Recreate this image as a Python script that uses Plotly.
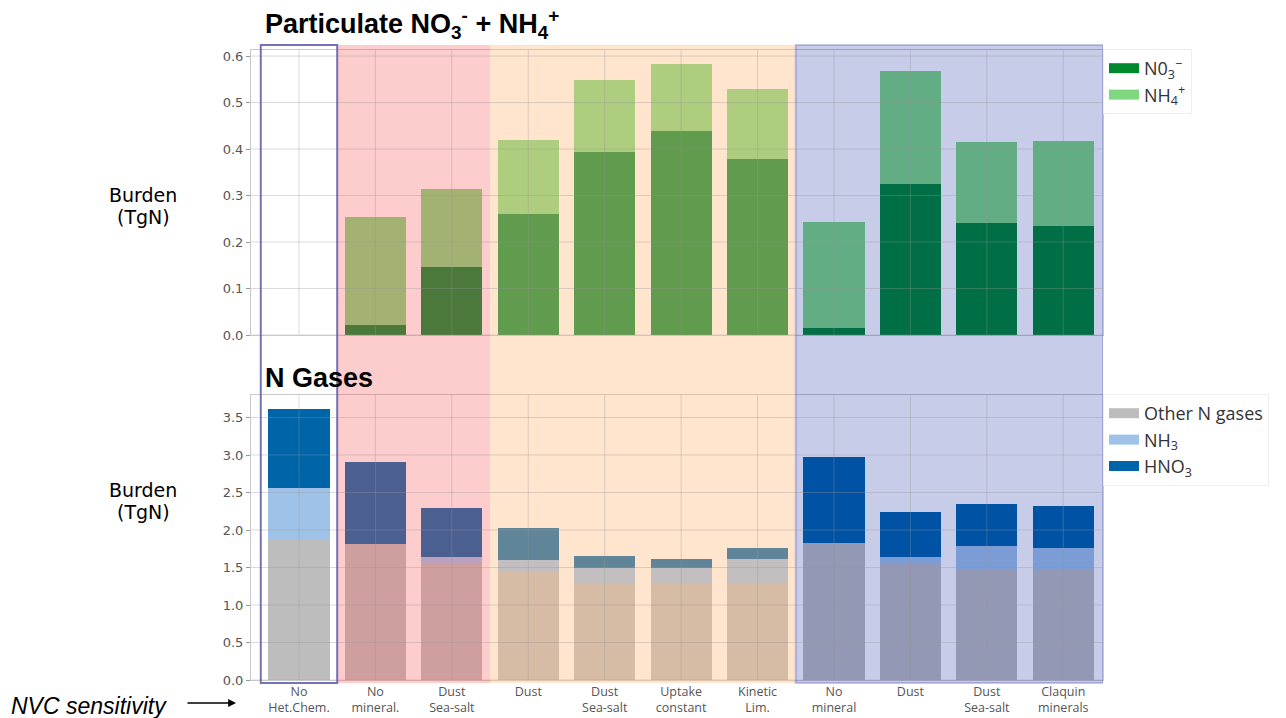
import plotly.graph_objects as go

# Sensitivity experiments (x-axis categories)
labels = ["No<br>Het.Chem.", "No<br>mineral.", "Dust<br>Sea-salt", "Dust",
          "Dust<br>Sea-salt", "Uptake<br>constant", "Kinetic<br>Lim.",
          "No<br>mineral", "Dust", "Dust<br>Sea-salt", "Claquin<br>minerals"]

# Particulate burdens (TgN)
no3 = [0.0, 0.021, 0.147, 0.261, 0.394, 0.438, 0.379, 0.014, 0.325, 0.241, 0.235]
nh4 = [0.0, 0.232, 0.166, 0.159, 0.154, 0.145, 0.150, 0.230, 0.243, 0.175, 0.183]

# Gas-phase burdens (TgN)
other_n = [1.87, 1.81, 1.56, 1.45, 1.30, 1.28, 1.30, 1.83, 1.55, 1.48, 1.47]
nh3 = [0.69, 0.0, 0.08, 0.15, 0.19, 0.22, 0.31, 0.0, 0.09, 0.31, 0.29]
hno3 = [1.05, 1.10, 0.65, 0.43, 0.17, 0.12, 0.15, 1.15, 0.60, 0.56, 0.56]

top_ticks = [0.0, 0.1, 0.2, 0.3, 0.4, 0.5, 0.6]
bot_ticks = [0.0, 0.5, 1.0, 1.5, 2.0, 2.5, 3.0, 3.5]

# Series styling: (values, legend label, colour)
top_series = [(no3, "N0<sub>3</sub><sup>−</sup>", "#00882f"),
              (nh4, "NH<sub>4</sub><sup>+</sup>", "#7fd87f")]
bot_series = [(other_n, "Other N gases", "#bdbdbd"),
              (nh3, "NH<sub>3</sub>", "#9fc2e8"),
              (hno3, "HNO<sub>3</sub>", "#0064a8")]

xpos = list(range(len(labels)))

W, H = 1286, 718
ML, MR, MT, MB = 251, 183, 50, 38
PW, PH = W - ML - MR, H - MT - MB


def px_x(p):
    return (p - ML) / PW


def px_y(p):
    return (H - MB - p) / PH


fig = go.Figure()

for series, xa, ya, leg in ((top_series, "x", "y", "legend"),
                            (bot_series, "x2", "y2", "legend2")):
    for vals, name, col in series:
        fig.add_trace(go.Bar(x=xpos, y=vals, name=name, marker_color=col,
                             marker_line_width=0, width=0.8, xaxis=xa, yaxis=ya,
                             showlegend=False, legendgroup=name))
        # wide rectangular legend key
        fig.add_trace(go.Scatter(x=[None], y=[None], mode="lines", name=name,
                                 line=dict(color=col, width=10), xaxis=xa, yaxis=ya,
                                 legend=leg, legendgroup=name, hoverinfo="skip"))

xrange = [-0.628, 10.52]
top_dom = [px_y(335), 1.0]
bot_dom = [0.0, px_y(395)]

axis_common = dict(showline=True, mirror=True, linecolor="#c8c8c8", linewidth=1,
                   showgrid=False, zeroline=False, automargin=False)
ytick_font = dict(family="DejaVu Sans", size=13, color="#555")
legend_common = dict(xanchor="left", yanchor="top", bgcolor="white",
                     bordercolor="#eeeeee", borderwidth=1,
                     font=dict(family="Open Sans", size=18, color="#333"),
                     tracegroupgap=0, traceorder="normal", itemwidth=30)

fig.update_layout(
    width=W, height=H,
    margin=dict(l=ML, r=MR, t=MT, b=MB, autoexpand=False),
    paper_bgcolor="white", plot_bgcolor="white",
    barmode="stack",
    font=dict(family="DejaVu Sans", color="#444"),
    xaxis=dict(domain=[0, 1], range=xrange, anchor="y", tickvals=xpos,
               showticklabels=False, ticks="", **axis_common),
    yaxis=dict(domain=top_dom, range=[0, 0.613], anchor="x", tickvals=top_ticks,
               tickformat=".1f", ticks="outside", ticklen=4, tickcolor="#999",
               tickfont=ytick_font, **axis_common),
    xaxis2=dict(domain=[0, 1], range=xrange, anchor="y2", tickvals=xpos,
                ticktext=labels, ticks="",
                tickfont=dict(family="Open Sans", size=12.5, color="#555"),
                **axis_common),
    yaxis2=dict(domain=bot_dom, range=[0, 3.8], anchor="x2", tickvals=bot_ticks,
                tickformat=".1f", ticks="outside", ticklen=4, tickcolor="#999",
                tickfont=ytick_font, **axis_common),
    showlegend=True,
    legend=dict(x=px_x(1103), y=px_y(49), **legend_common),
    legend2=dict(x=px_x(1103), y=px_y(394), **legend_common),
)

shapes = []
# Shaded experiment groups spanning both panels, drawn over the bars
span_y0, span_y1 = px_y(683), px_y(45)
groups = [
    (0.5, 2.5, "rgba(250,85,90,0.30)", "rgba(0,0,0,0)"),
    (2.5, 6.5, "rgba(255,187,126,0.38)", "rgba(0,0,0,0)"),
    (6.5, 10.52, "rgba(0,25,150,0.22)", "rgba(70,80,170,0.30)"),
]
for x0, x1, fill, edge in groups:
    shapes.append(dict(type="rect", xref="x", yref="paper", x0=x0, x1=x1,
                       y0=span_y0, y1=span_y1, fillcolor=fill, layer="above",
                       line=dict(color=edge, width=2)))

# Grid lines over the bars
grid_col = "rgba(150,150,150,0.35)"
for ya, xa, ticks in (("y", "x", top_ticks), ("y2", "x2", bot_ticks)):
    for t in ticks:
        shapes.append(dict(type="line", xref=f"{xa} domain", yref=ya, x0=0, x1=1,
                           y0=t, y1=t, layer="above", line=dict(color=grid_col, width=1)))
    for xv in xpos:
        shapes.append(dict(type="line", xref=xa, yref=f"{ya} domain", x0=xv, x1=xv,
                           y0=0, y1=1, layer="above", line=dict(color=grid_col, width=1)))

# Outline of the reference experiment
shapes.append(dict(type="rect", xref="x", yref="paper", x0=-0.5, x1=0.5,
                   y0=span_y0, y1=span_y1, fillcolor="rgba(0,0,0,0)", layer="above",
                   line=dict(color="rgba(100,100,175,0.9)", width=2)))
fig.update_layout(shapes=shapes)


def label(text, xp, yp, size, anchor="center", bold=False, italic=False,
          family="Liberation Sans"):
    if bold:
        text = f"<b>{text}</b>"
    if italic:
        text = f"<i>{text}</i>"
    return dict(text=text, x=px_x(xp), y=px_y(yp), xref="paper", yref="paper",
                xanchor=anchor, yanchor="middle", showarrow=False,
                font=dict(family=family, size=size, color="black"))


ann = [
    label("Particulate NO<sub>3</sub><sup>-</sup> + NH<sub>4</sub><sup>+</sup>",
          263, 24, 27, anchor="left", bold=True),
    label("N Gases", 263, 378, 27, anchor="left", bold=True),
    label("Burden", 143, 195, 19, family="DejaVu Sans"),
    label("(TgN)", 143, 217, 19, family="DejaVu Sans"),
    label("Burden", 143, 490, 19, family="DejaVu Sans"),
    label("(TgN)", 143, 512, 19, family="DejaVu Sans"),
    label("NVC sensitivity", 9, 706, 23, anchor="left", italic=True),
    dict(text="", x=px_x(236), y=px_y(703), xref="paper", yref="paper",
         showarrow=True, ax=-50, ay=0, arrowhead=2, arrowsize=1.2, arrowwidth=1.3,
         arrowcolor="black"),
]
fig.update_layout(annotations=ann)

fig.write_html("out.html")
